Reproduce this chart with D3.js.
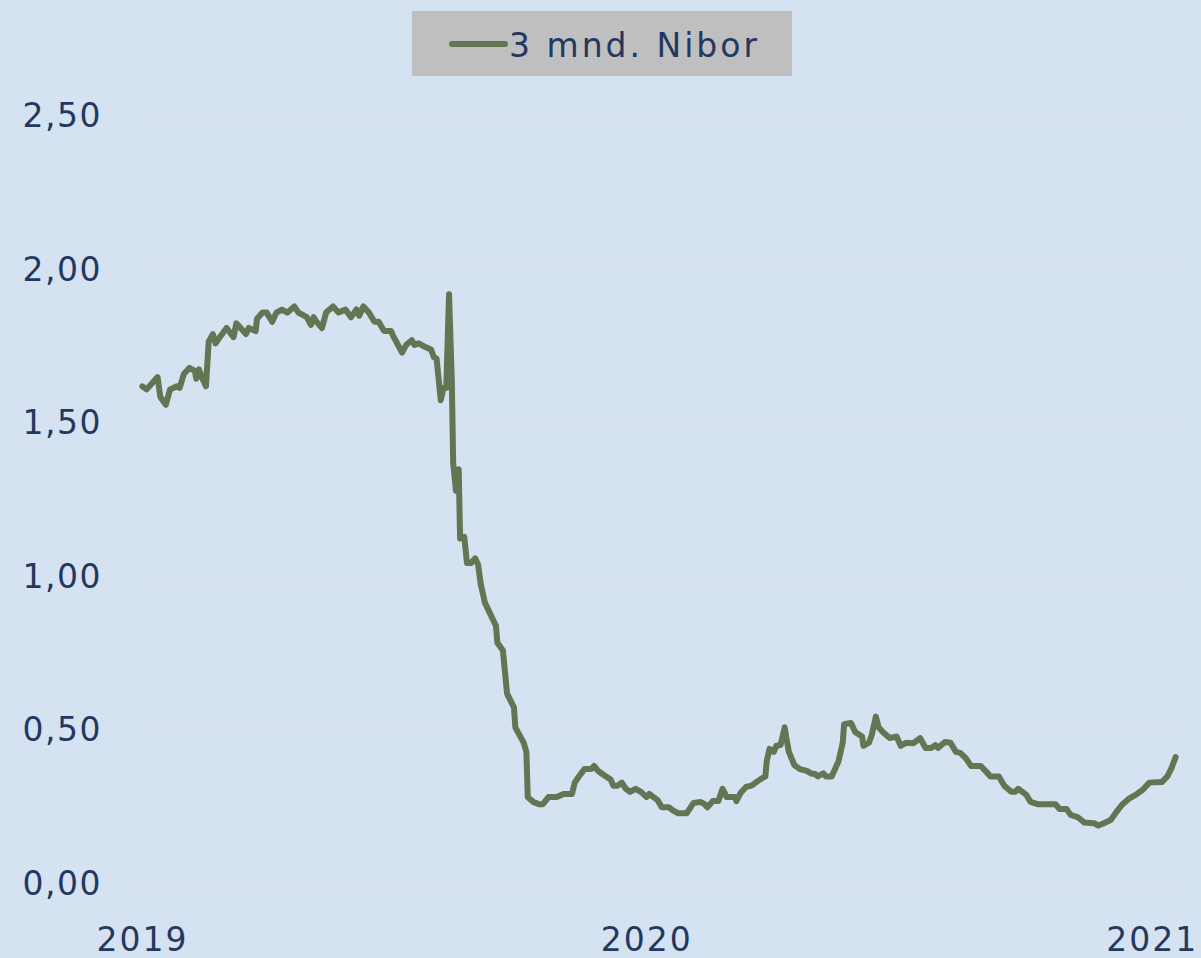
<!DOCTYPE html>
<html>
<head>
<meta charset="utf-8">
<script src="https://cdn.jsdelivr.net/npm/d3@7"></script>
<style>
  html, body { margin: 0; padding: 0; background: #d5e2f1; }
  svg { display: block; }
</style>
</head>
<body>
<div id="chart"></div>
<script>
// 3 mnd. Nibor, readings
const dates = [
  '2019-01-02','2019-01-05','2019-01-09','2019-01-13','2019-01-15','2019-01-19','2019-01-22','2019-01-27','2019-01-29',
  '2019-02-01','2019-02-05','2019-02-09','2019-02-10','2019-02-12','2019-02-14','2019-02-17','2019-02-19','2019-02-22','2019-02-24','2019-02-27',
  '2019-03-04','2019-03-09','2019-03-11','2019-03-18','2019-03-20','2019-03-25','2019-03-26','2019-03-30',
  '2019-04-02','2019-04-06','2019-04-09','2019-04-13','2019-04-17','2019-04-22','2019-04-25',
  '2019-05-01','2019-05-04','2019-05-06','2019-05-08','2019-05-12','2019-05-15','2019-05-20','2019-05-24','2019-05-29',
  '2019-06-02','2019-06-06','2019-06-08','2019-06-11','2019-06-15','2019-06-19','2019-06-22','2019-06-26',
  '2019-07-01','2019-07-03','2019-07-09','2019-07-12','2019-07-16','2019-07-18','2019-07-21','2019-07-25','2019-07-30',
  '2019-08-01','2019-08-03','2019-08-06','2019-08-08','2019-08-10','2019-08-12','2019-08-14','2019-08-15','2019-08-17','2019-08-19',
  '2019-08-20','2019-08-23','2019-08-25','2019-08-28','2019-08-31',
  '2019-09-02','2019-09-04','2019-09-07','2019-09-15','2019-09-16','2019-09-20','2019-09-23','2019-09-28','2019-09-29',
  '2019-10-05','2019-10-07','2019-10-08','2019-10-12','2019-10-16','2019-10-19','2019-10-23','2019-10-29',
  '2019-11-03','2019-11-09','2019-11-11','2019-11-14','2019-11-18','2019-11-23','2019-11-25','2019-11-28',
  '2019-12-02','2019-12-07','2019-12-09','2019-12-12','2019-12-15','2019-12-18','2019-12-21','2019-12-25','2019-12-29',
  '2020-01-02','2020-01-04','2020-01-07','2020-01-10','2020-01-13','2020-01-18','2020-01-21','2020-01-25','2020-01-31',
  '2020-02-05','2020-02-10','2020-02-13','2020-02-15','2020-02-19','2020-02-23','2020-02-26','2020-02-29',
  '2020-03-06','2020-03-07','2020-03-10','2020-03-14','2020-03-18','2020-03-21','2020-03-24','2020-03-28','2020-03-29','2020-03-31',
  '2020-04-03','2020-04-05','2020-04-08','2020-04-11','2020-04-12','2020-04-14','2020-04-18','2020-04-22','2020-04-27','2020-04-30',
  '2020-05-03','2020-05-05','2020-05-09','2020-05-11','2020-05-15','2020-05-20','2020-05-23','2020-05-24','2020-05-29',
  '2020-06-01','2020-06-06','2020-06-07','2020-06-11','2020-06-13','2020-06-16','2020-06-18','2020-06-21','2020-06-26',
  '2020-07-01','2020-07-04','2020-07-08','2020-07-13','2020-07-18','2020-07-22','2020-07-26','2020-07-29','2020-07-31',
  '2020-08-05','2020-08-09','2020-08-13','2020-08-16','2020-08-20','2020-08-24','2020-08-31',
  '2020-09-04','2020-09-07','2020-09-13','2020-09-17','2020-09-22','2020-09-25','2020-09-27',
  '2020-10-03','2020-10-06','2020-10-11','2020-10-24','2020-10-27',
  '2020-11-01','2020-11-04','2020-11-09','2020-11-14','2020-11-21','2020-11-24','2020-11-28',
  '2020-12-03','2020-12-07','2020-12-11','2020-12-16','2020-12-21','2020-12-26','2020-12-31',
  '2021-01-09','2021-01-13','2021-01-16','2021-01-19'
];
const nibor = [
  1.62,1.61,1.63,1.65,1.585,1.56,1.61,1.62,1.615,
  1.66,1.68,1.67,1.645,1.675,1.65,1.62,1.765,1.79,1.76,1.78,
  1.81,1.78,1.825,1.79,1.81,1.80,1.84,1.86,
  1.86,1.83,1.86,1.87,1.86,1.88,1.86,
  1.845,1.82,1.845,1.83,1.81,1.86,1.88,1.86,1.87,
  1.845,1.87,1.85,1.88,1.86,1.83,1.83,1.80,
  1.80,1.78,1.73,1.755,1.77,1.755,1.76,1.75,1.74,
  1.715,1.71,1.575,1.615,1.615,1.92,1.64,1.37,1.28,1.35,
  1.125,1.13,1.045,1.045,1.06,
  1.04,0.975,0.915,0.84,0.785,0.76,0.62,0.575,0.51,
  0.46,0.43,0.283,0.267,0.26,0.26,0.283,0.283,
  0.293,0.293,0.33,0.35,0.374,0.374,0.384,0.368,
  0.355,0.34,0.32,0.32,0.33,0.31,0.30,0.31,0.30,
  0.283,0.293,0.283,0.273,0.25,0.25,0.24,0.23,0.23,
  0.264,0.267,0.26,0.25,0.27,0.27,0.31,0.283,
  0.283,0.27,0.296,0.316,0.32,0.33,0.34,0.35,0.40,0.44,
  0.43,0.45,0.452,0.51,0.48,0.43,0.387,0.374,0.368,0.36,
  0.358,0.35,0.36,0.35,0.35,0.40,0.46,0.52,0.524,
  0.495,0.48,0.45,0.46,0.485,0.545,0.51,0.495,0.475,
  0.48,0.45,0.46,0.458,0.475,0.443,0.443,0.452,0.443,
  0.462,0.46,0.43,0.427,0.41,0.384,0.384,
  0.365,0.35,0.35,0.32,0.30,0.30,0.31,
  0.29,0.267,0.26,0.26,0.244,
  0.244,0.225,0.218,0.20,0.198,0.19,0.198,
  0.208,0.234,0.257,0.277,0.29,0.306,0.33,
  0.332,0.35,0.377,0.413
];
const yTicks = [0, 0.5, 1, 1.5, 2, 2.5];
const xTicks = ['2019-01-01', '2020-01-01', '2021-01-01'];
const seriesName = '3 mnd. Nibor';

const width = 1201;
const height = 958;
const margin = { top: 116, right: 24, bottom: 74, left: 141 };

const parse = d3.timeParse('%Y-%m-%d');
const data = dates.map((d, i) => ({ date: parse(d), value: nibor[i] }));

const x = d3.scaleTime()
  .domain([parse('2019-01-01'), parse('2021-01-20')])
  .range([margin.left, width - margin.right]);

const y = d3.scaleLinear()
  .domain([0, 2.5])
  .range([height - margin.bottom, margin.top]);

const textColor = '#24385f';
const gridColor = '#dde0ee';
const lineColor = '#637553';
const fontFamily = '"DejaVu Sans", sans-serif';

const svg = d3.select('#chart').append('svg')
  .attr('width', width)
  .attr('height', height)
  .attr('viewBox', [0, 0, width, height]);

svg.append('rect')
  .attr('width', width)
  .attr('height', height)
  .attr('fill', '#d5e2f1');

// Horizontal gridlines
svg.append('g')
  .selectAll('line')
  .data(yTicks)
  .join('line')
  .attr('x1', margin.left)
  .attr('x2', width - margin.right)
  .attr('y1', d => y(d))
  .attr('y2', d => y(d))
  .attr('stroke', gridColor)
  .attr('stroke-width', 1.5);

// Y axis labels (comma decimals)
const commaFmt = d => d3.format('.2f')(d).replace('.', ',');
svg.append('g')
  .attr('transform', `translate(102,0)`)
  .call(d3.axisLeft(y).tickValues(yTicks).tickSize(0).tickPadding(0).tickFormat(commaFmt))
  .call(g => g.select('.domain').remove())
  .call(g => g.selectAll('text')
    .attr('fill', textColor)
    .attr('font-family', fontFamily)
    .attr('font-size', '33px')
    .attr('letter-spacing', '1.5px'));

// X axis
svg.append('g')
  .attr('transform', `translate(0,${y(0)})`)
  .call(d3.axisBottom(x).tickValues(xTicks.map(parse)).tickSize(12).tickFormat(d3.timeFormat('%Y')))
  .call(g => g.select('.domain').attr('stroke', gridColor).attr('stroke-width', 1.5))
  .call(g => g.selectAll('line').attr('stroke', gridColor).attr('stroke-width', 1.5))
  .call(g => g.selectAll('text')
    .attr('y', 67)
    .attr('dy', 0)
    .attr('dx', '1px')
    .attr('fill', textColor)
    .attr('font-family', fontFamily)
    .attr('font-size', '33px')
    .attr('letter-spacing', '2px'));

// Line
const line = d3.line()
  .x(d => x(d.date))
  .y(d => y(d.value));

svg.append('path')
  .datum(data)
  .attr('fill', 'none')
  .attr('stroke', lineColor)
  .attr('stroke-width', 6)
  .attr('stroke-linejoin', 'round')
  .attr('stroke-linecap', 'round')
  .attr('d', line);

// Legend
const legend = svg.append('g');
legend.append('rect')
  .attr('x', 412)
  .attr('y', 11)
  .attr('width', 380)
  .attr('height', 65)
  .attr('fill', '#bfbfbf');
legend.append('line')
  .attr('x1', 452)
  .attr('x2', 505)
  .attr('y1', 44)
  .attr('y2', 44)
  .attr('stroke', lineColor)
  .attr('stroke-width', 6)
  .attr('stroke-linecap', 'round');
legend.append('text')
  .attr('x', 509)
  .attr('y', 57)
  .attr('fill', textColor)
  .attr('font-family', fontFamily)
  .attr('font-size', '33px')
  .attr('letter-spacing', '3px')
  .text(seriesName);
</script>
</body>
</html>
